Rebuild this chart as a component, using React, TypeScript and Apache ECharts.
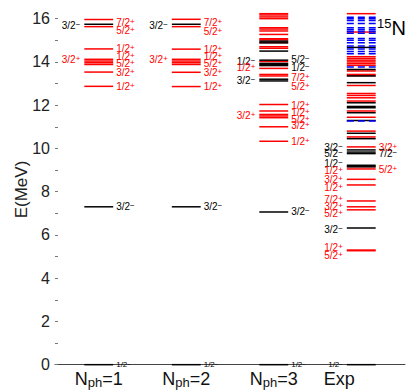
import React, { useEffect, useRef } from "react";
import * as echarts from "echarts";

const FONT = "'Liberation Sans', Arial, Helvetica, sans-serif";

// x-axis categories
const columns = ["N_ph=1", "N_ph=2", "N_ph=3", "Exp"];
// y-axis ticks (MeV)
const majorTicks = [0, 2, 4, 6, 8, 10, 12, 14, 16];
const allTicks = [0, 1, 2, 3, 4, 5, 6, 7, 8, 9, 10, 11, 12, 13, 14, 15, 16];

// level energies (MeV): negative parity (black), positive parity (red), unknown (blue dashed)
const nph1Neg = [0, 7.3, 15.74];
const nph1Pos = [12.87, 13.53, 13.88, 13.96, 14.04, 14.12, 14.6, 15.63, 15.96];
const nph2Neg = [0, 7.3, 15.74];
const nph2Pos = [12.86, 13.52, 13.88, 13.96, 14.04, 14.12, 14.59, 15.63, 15.97];
const nph3Neg = [0, 7.06, 13.12, 13.2, 13.83, 13.88, 13.93, 14.08, 14.5, 14.88, 14.96];
const nph3Pos = [10.33, 11.0, 11.42, 11.5, 11.57, 11.73, 12.03, 13.35, 13.42, 13.7, 14.02, 14.63, 14.7, 14.9, 15.02, 15.07, 15.27, 15.43, 15.52, 15.58, 16.0, 16.08, 16.17, 16.23];
const expNeg = [0, 6.32, 9.15, 9.22, 9.76, 9.83, 9.93, 10.45, 10.7, 11.29, 11.65, 11.88, 11.94, 12.11, 13.04, 13.35, 13.65, 14.67];
const expPos = [5.27, 5.3, 7.16, 7.3, 7.57, 8.31, 8.57, 9.05, 9.16, 10.07, 10.53, 10.8, 11.44, 11.73, 12.19, 12.34, 12.45, 12.54, 12.91, 13.37, 13.42, 13.58, 13.84, 13.92, 14.0, 14.08, 14.16, 14.24, 15.38, 16.23];
const expUnknown = [11.27, 13.76, 14.38, 14.48, 14.6, 14.74, 14.89, 15.0, 15.08, 15.33, 15.42, 15.5, 15.58, 15.77, 15.92, 16.0, 16.07];

// level labels: [column, energy, spin, parity, side, small]
const levelLabels: [number, number, string, string, string, number][] = [
  [0, 15.83, "7/2", "+", "R", 0], [0, 15.44, "5/2", "+", "R", 0], [0, 14.62, "1/2", "+", "R", 0],
  [0, 14.23, "1/2", "+", "R", 0], [0, 13.94, "5/2", "+", "R", 0], [0, 13.49, "3/2", "+", "R", 0],
  [0, 12.85, "1/2", "+", "R", 0], [0, 15.69, "3/2", "-", "L", 0], [0, 14.1, "3/2", "+", "L", 0],
  [0, 7.3, "3/2", "-", "R", 0], [0, 0, "1/2", "-", "R", 1],
  [1, 15.83, "7/2", "+", "R", 0], [1, 15.4, "5/2", "+", "R", 0], [1, 14.58, "1/2", "+", "R", 0],
  [1, 14.23, "1/2", "+", "R", 0], [1, 13.92, "5/2", "+", "R", 0], [1, 13.49, "3/2", "+", "R", 0],
  [1, 12.84, "1/2", "+", "R", 0], [1, 15.7, "3/2", "-", "L", 0], [1, 14.1, "3/2", "+", "L", 0],
  [1, 7.3, "3/2", "-", "R", 0], [1, 0, "1/2", "-", "R", 1],
  [2, 14.04, "1/2", "-", "L", 0], [2, 13.73, "1/2", "+", "L", 0], [2, 13.14, "3/2", "-", "L", 0],
  [2, 11.53, "3/2", "+", "L", 0], [2, 14.11, "5/2", "-", "R", 0], [2, 13.73, "1/2", "-", "R", 0],
  [2, 13.27, "7/2", "+", "R", 0], [2, 12.84, "5/2", "+", "R", 0], [2, 12.0, "1/2", "+", "R", 0],
  [2, 11.68, "1/2", "+", "R", 0], [2, 11.34, "5/2", "+", "R", 0], [2, 11.04, "3/2", "+", "R", 0],
  [2, 10.31, "1/2", "+", "R", 0], [2, 7.06, "3/2", "-", "R", 0], [2, 0, "1/2", "-", "R", 1],
  [3, 10.05, "3/2", "-", "L", 0], [3, 9.76, "5/2", "-", "L", 0], [3, 9.32, "1/2", "-", "L", 0],
  [3, 8.98, "1/2", "+", "L", 0], [3, 8.57, "3/2", "+", "L", 0], [3, 8.18, "1/2", "+", "L", 0],
  [3, 7.66, "7/2", "+", "L", 0], [3, 7.3, "3/2", "+", "L", 0], [3, 6.97, "5/2", "+", "L", 0],
  [3, 6.27, "3/2", "-", "L", 0], [3, 5.42, "1/2", "+", "L", 0], [3, 5.07, "5/2", "+", "L", 0],
  [3, 0, "1/2", "-", "L", 1], [3, 10.06, "3/2", "+", "R", 0], [3, 9.76, "7/2", "-", "R", 0],
  [3, 9.03, "5/2", "+", "R", 0],
];

const KIND_COLORS = ["#000000", "#ff0000", "#0000ff"];

function buildLevels() {
  const out: number[][] = [];
  const add = (col: number, arr: number[], kind: number) => arr.forEach((e) => out.push([col, e, kind]));
  add(0, nph1Pos, 1); add(0, nph1Neg, 0);
  add(1, nph2Pos, 1); add(1, nph2Neg, 0);
  add(2, nph3Pos, 1); add(2, nph3Neg, 0);
  add(3, expPos, 1); add(3, expNeg, 0); add(3, expUnknown, 2);
  return out;
}

export default function App() {
  const ref = useRef<HTMLDivElement>(null);
  useEffect(() => {
    if (!ref.current) return;
    const chart = echarts.init(ref.current, undefined, { renderer: "svg" });
    const HALF = 0.165;
    chart.setOption({
      animation: false,
      backgroundColor: "#ffffff",
      grid: { left: 47, right: 18, top: 2, bottom: 30, outerBoundsMode: "none" },
      xAxis: {
        type: "category",
        data: columns,
        axisLine: { show: true, lineStyle: { color: "#444", width: 1 } },
        axisTick: { show: false },
        axisLabel: {
          margin: 1,
          interval: 0,
          align: "center",
          formatter: (v: string) => {
            const m = /^(\w)_(\w+)(=.*)$/.exec(v);
            if (m) return `{n|${m[1]}}{s|${m[2]}}{n|${m[3]}}`;
            return `{n|${v}}{h| }`;
          },
          rich: {
            n: { fontSize: 18, lineHeight: 19, verticalAlign: "top", color: "#111", fontFamily: FONT },
            s: { fontSize: 13, lineHeight: 13, padding: [12, 0, 0, 0], verticalAlign: "bottom", color: "#111", fontFamily: FONT },
            h: { width: 44, fontSize: 10, lineHeight: 10 },
          },
        },
      },
      yAxis: {
        type: "value",
        min: -0.2,
        max: 16.4,
        name: "E(MeV)",
        nameLocation: "middle",
        nameGap: 25,
        nameMoveOverlap: false,
        nameTextStyle: { fontSize: 17, lineHeight: 17, color: "#222", fontFamily: FONT },
        axisLine: { show: false },
        splitLine: { show: false },
        axisTick: { show: true, inside: true, length: 3, customValues: allTicks, lineStyle: { color: "#777" } },
        axisLabel: { customValues: majorTicks, fontSize: 16, color: "#222", fontFamily: FONT, margin: 5 },
      },
      series: [
        {
          type: "custom",
          coordinateSystem: "cartesian2d",
          data: buildLevels(),
          renderItem: (params: any, api: any) => {
            const c = api.coord([api.value(0), api.value(1)]);
            const half = api.size([1, 0])[0] * HALF;
            const kind = api.value(2);
            return {
              type: "line",
              shape: { x1: c[0] - half, y1: c[1], x2: c[0] + half, y2: c[1] },
              style: {
                stroke: KIND_COLORS[kind],
                lineWidth: 1.5,
                lineDash: kind === 2 ? [7, 4] : null,
              },
            };
          },
        },
        {
          type: "custom",
          coordinateSystem: "cartesian2d",
          data: levelLabels.map((l) => [l[0], l[1]]),
          renderItem: (params: any, api: any) => {
            const L = levelLabels[params.dataIndex];
            const c = api.coord([L[0], L[1]]);
            const half = api.size([1, 0])[0] * HALF;
            const right = L[4] === "R";
            const color = L[3] === "+" ? "#ff0000" : "#000000";
            const fs = L[5] ? 8 : 10;
            return {
              type: "text",
              x: right ? c[0] + half + 3 : c[0] - half - 4,
              y: c[1],
              style: {
                text: `{a|${L[2]}}{b|${L[3] === "-" ? "\u2212" : "+"}}`,
                align: right ? "left" : "right",
                verticalAlign: "middle",
                rich: {
                  a: { fontSize: fs, lineHeight: fs, padding: [2, 0, 0, 0], verticalAlign: "bottom", fill: color, fontFamily: FONT },
                  b: { fontSize: fs - 2, lineHeight: fs - 2, verticalAlign: "top", fill: color, fontFamily: FONT },
                },
              },
            };
          },
        },
      ],
      graphic: [
        {
          type: "text",
          left: 369,
          top: 6,
          style: {
            text: "{a|15}{b|N}",
            rich: {
              a: { fontSize: 13, lineHeight: 13, verticalAlign: "top", fill: "#000", fontFamily: FONT },
              b: { fontSize: 20, lineHeight: 21, padding: [4, 0, 0, 0], verticalAlign: "bottom", fill: "#000", fontFamily: FONT },
            },
          },
        },
      ],
    });
    return () => chart.dispose();
  }, []);
  return <div ref={ref} style={{ width: 415, height: 391 }} />;
}
